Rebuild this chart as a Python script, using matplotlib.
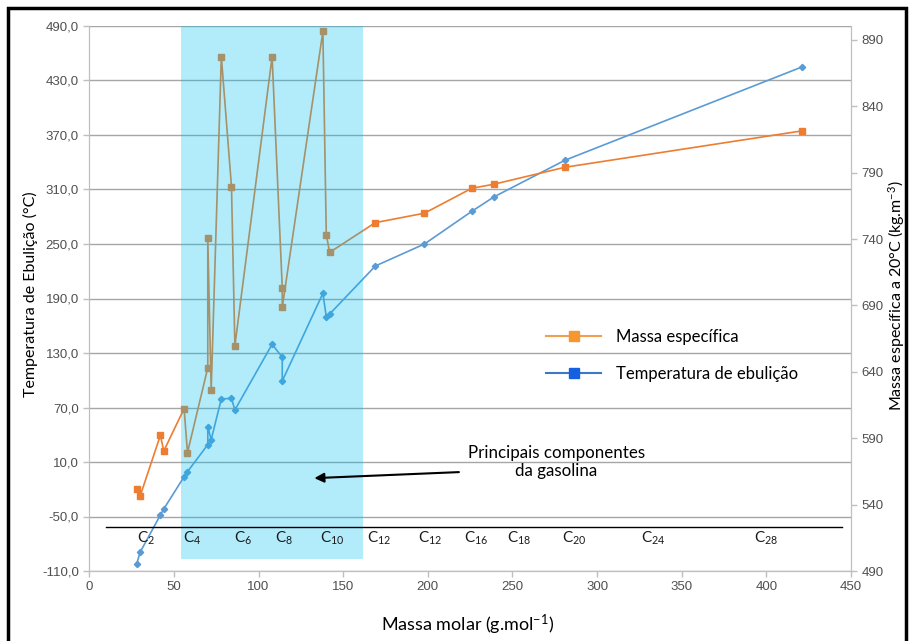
import matplotlib
matplotlib.use("Agg")
import matplotlib.pyplot as plt
from matplotlib.lines import Line2D
from matplotlib.patches import Rectangle

plt.rcParams['mathtext.fontset'] = 'custom'
plt.rcParams['mathtext.rm'] = 'Lato'
plt.rcParams['mathtext.it'] = 'Lato:italic'

# dados
massa_molar = [28, 30, 42, 44, 56, 58, 70, 70, 72, 78, 84, 86,
               108, 114, 114, 138, 140, 142, 169, 198, 226, 239, 281, 421]
temp_ebulicao = [-102.3, -89.4, -48.3, -41.7, -6.2, -0.7, 29.1, 48.9, 34.6, 79.4, 80.1, 67.3,
                 139.6, 125.3, 99.2, 195.7, 169.9, 172.9, 225.8, 250.0, 286.0, 301.8, 342.2, 444.9]
massa_especifica = [551.5, 546.3, 592.2, 580.4, 612.3, 579.1, 643.1, 740.6, 626.3, 877.4, 779.5, 659.5,
                    877.4, 703.2, 688.6, 896.4, 743.3, 730.0, 752.4, 759.5, 778.3, 781.3, 794.1, 821.5]

# rótulos de número de carbonos
carbonos = ["2", "4", "6", "8", "10", "12", "12", "16", "18", "20", "24", "28"]
carbonos_x = [27.9, 55.3, 85.6, 110.0, 136.2, 164.1, 194.0, 221.5, 246.8, 279.2, 326.1, 392.4]

laranja = "#ED7D31"
azul = "#5B9BD5"
tick_font = ["Liberation Sans Narrow", "Liberation Sans"]

fig = plt.figure(figsize=(9.12, 6.41), dpi=100)
ax = fig.add_axes([89.3 / 912, 1 - 571 / 641, (851 - 89.3) / 912, 545 / 641])
ax2 = ax.twinx()

ax.plot(massa_molar, temp_ebulicao, color=azul, lw=1.2, marker="D", ms=3.2, zorder=3)
ax2.plot(massa_molar, massa_especifica, color=laranja, lw=1.2, marker="s", ms=4.5, zorder=3)

ax.set_xlim(0, 450)
ax.set_ylim(-110, 490)
ax2.set_ylim(490, 900.5)

ax.set_xticks(range(0, 451, 50))
ax.set_yticks(range(-110, 491, 60))
ax.set_yticklabels([f"{v:.1f}".replace(".", ",") for v in range(-110, 491, 60)])
ax2.set_yticks(range(490, 891, 50))

ax.grid(axis="y", color="#a6a6a6", lw=1)
for a in (ax, ax2):
    for s in a.spines.values():
        s.set_color("#bfbfbf")
    a.spines["top"].set_visible(False)
    a.tick_params(colors="#bfbfbf", labelcolor="#505050", length=4, width=1)
    for lab in a.get_xticklabels() + a.get_yticklabels():
        lab.set_family(tick_font)
        lab.set_fontsize(9.5)

# região dos principais componentes da gasolina
ax2.axvspan(54.1, 161.7, ymin=0.022, ymax=1, color="#00C0F0", alpha=0.3, lw=0, zorder=5)

ax2.plot([9.6, 444.7], [-61.6, -61.6], color="black", lw=1, transform=ax.transData, zorder=6)
for c, x in zip(carbonos, carbonos_x):
    ax2.text(x, -79.2, "C$_{\\mathrm{" + c + "}}$", transform=ax.transData, ha="left",
             va="baseline", fontsize=11, family="Lato", color="#1a1a1a", zorder=6)

ax2.annotate("", xy=(131.3, -7.9), xytext=(220, -1.0), xycoords=ax.transData,
             textcoords=ax.transData,
             arrowprops=dict(arrowstyle="-|>", color="black", lw=1.5, mutation_scale=14), zorder=6)
ax2.text(276, 10, "Principais componentes\nda gasolina", transform=ax.transData, ha="center",
         va="center", fontsize=12.2, family="Lato", linespacing=1.15, zorder=6)

handles = [
    Line2D([], [], color="#F0A050", lw=1.5, marker="s", ms=7.5, mfc="#F5962F", mec="#F5962F"),
    Line2D([], [], color="#3A78C8", lw=1.5, marker="s", ms=7.5, mfc="#1560E0", mec="#1560E0"),
]
ax2.legend(handles, ["Massa específica", "Temperatura de ebulição"], loc="upper left",
           bbox_to_anchor=(0.580, 0.472), frameon=False, prop={"family": "Lato", "size": 12},
           handlelength=3.3, handletextpad=0.9, labelspacing=1.25)

fig.text(30 / 912, 1 - 294 / 641, "Temperatura de Ebulição (°C)", rotation=90, ha="center",
         va="center", fontsize=11.5, family="Lato")
fig.text(897 / 912, 1 - 296 / 641, "Massa específica a 20°C (kg.m$^{\\mathrm{-3}}$)", rotation=90,
         ha="center", va="center", fontsize=11.5, family="Lato")
fig.text(468 / 912, 1 - 625 / 641, "Massa molar (g.mol$^{\\mathrm{-1}}$)", ha="center", va="center",
         fontsize=13, family="Lato")

fig.patches.append(Rectangle((8 / 912, -0.02), 898 / 912, 1 - 8 / 641 + 0.02, transform=fig.transFigure,
                             fill=False, ec="black", lw=2.5))

fig.savefig("out.png", dpi=100)
